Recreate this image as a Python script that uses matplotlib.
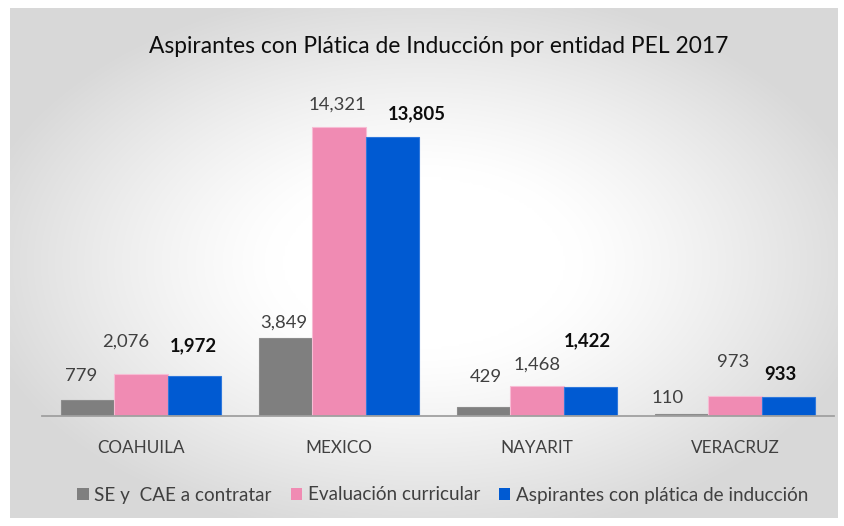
import numpy as np
import matplotlib
matplotlib.use("Agg")
import matplotlib.pyplot as plt
from matplotlib.patches import Patch

plt.rcParams['font.family'] = ['Lato', 'DejaVu Sans']

# ---- data ----
categories = ["COAHUILA", "MEXICO", "NAYARIT", "VERACRUZ"]
series_names = ["SE y  CAE a contratar", "Evaluación curricular",
                "Aspirantes con plática de inducción"]
se_cae = [779, 3849, 429, 110]
evaluacion = [2076, 14321, 1468, 973]
aspirantes = [1972, 13805, 1422, 933]
title = "Aspirantes con Plática de Inducción por entidad PEL 2017"

# ---- style / layout ----
colors = ["#7f7f7f", "#f08bb3", "#005ad2"]
edgecolors = ["#8c8c8c", "#f7bcd4", "#2f78dc"]
# per-label nudges (pixels): dx, dy above bar top
label_dx = [[-7, -2, 2, -14], [-15, -2, 0, -2], [-1, 25, -3, -8]]
label_dy = [[19, 11, 25, 11], [27, 17, 17, 29], [25, 18, 41, 17]]

W, H = 845, 526
fig = plt.figure(figsize=(W / 100, H / 100), dpi=100)
fig.patch.set_facecolor("white")

# gradient background panel
bx0, by0, bx1, by1 = 10, 8, 838, 518
bg = fig.add_axes([bx0 / W, 1 - by1 / H, (bx1 - bx0) / W, (by1 - by0) / H])
bg.set_axis_off()
ny, nx = 200, 320
yy, xx = np.mgrid[-1:1:ny * 1j, -1:1:nx * 1j]
r = np.sqrt(xx ** 2 + yy ** 2)
t = np.clip((r - 0.35) / 0.75, 0, 1) ** 1.2
val = 1 - t * (1 - 0.85)
bg.imshow(np.dstack([val, val, val]), aspect="auto", interpolation="bicubic",
          extent=[0, 1, 0, 1])
bg.set_xlim(0, 1)
bg.set_ylim(0, 1)

# main axes
ax_l, ax_r, ax_b = 42, 834, 416
ymax = 16000
px_per_unit = 289.3 / 14321
ax_h = ymax * px_per_unit
ax = fig.add_axes([ax_l / W, (H - ax_b) / H, (ax_r - ax_l) / W, ax_h / H])
ax.patch.set_alpha(0)
ax.set_xlim(-0.5, len(categories) - 0.5)
ax.set_ylim(0, ymax)

x = np.arange(len(categories))
bw = 0.268
all_series = [se_cae, evaluacion, aspirantes]
for i, (vals, c, ec) in enumerate(zip(all_series, colors, edgecolors)):
    pos = x + (i - 1) * bw
    bars = ax.bar(pos, vals, width=bw, color=c, edgecolor=ec, linewidth=0.8,
                  label=series_names[i], zorder=2)
    for j, (p, v) in enumerate(zip(pos, vals)):
        bold = (i == 2)
        ax.annotate(f"{v:,}", xy=(p, v), xytext=(label_dx[i][j], label_dy[i][j]),
                    textcoords="offset pixels", ha="center", va="baseline",
                    fontsize=13.3, color="#0d0d0d" if bold else "#404040",
                    fontweight="bold" if bold else "normal")

for s in ["top", "right", "left"]:
    ax.spines[s].set_visible(False)
ax.spines["bottom"].set_color("#a0a0a0")
ax.spines["bottom"].set_linewidth(1.3)
ax.set_yticks([])
ax.set_xticks(x)
ax.set_xticklabels(categories, fontsize=12.3, color="#404040")
ax.tick_params(axis="x", length=0, pad=17)

fig.text(0.5 * (150 + 727) / W, 1 - 53 / H, title, ha="center", va="baseline",
         fontsize=16.4, color="#0d0d0d")

handles = [Patch(facecolor=c, edgecolor="none") for c in colors]
fig.legend(handles, series_names, loc="center", bbox_to_anchor=(443 / W, 1 - 495 / H),
           ncol=3, frameon=False, fontsize=13.6, handlelength=0.6, handleheight=0.6,
           handletextpad=0.3, columnspacing=1.0, labelcolor="#404040")

fig.savefig("out.png", dpi=100)
